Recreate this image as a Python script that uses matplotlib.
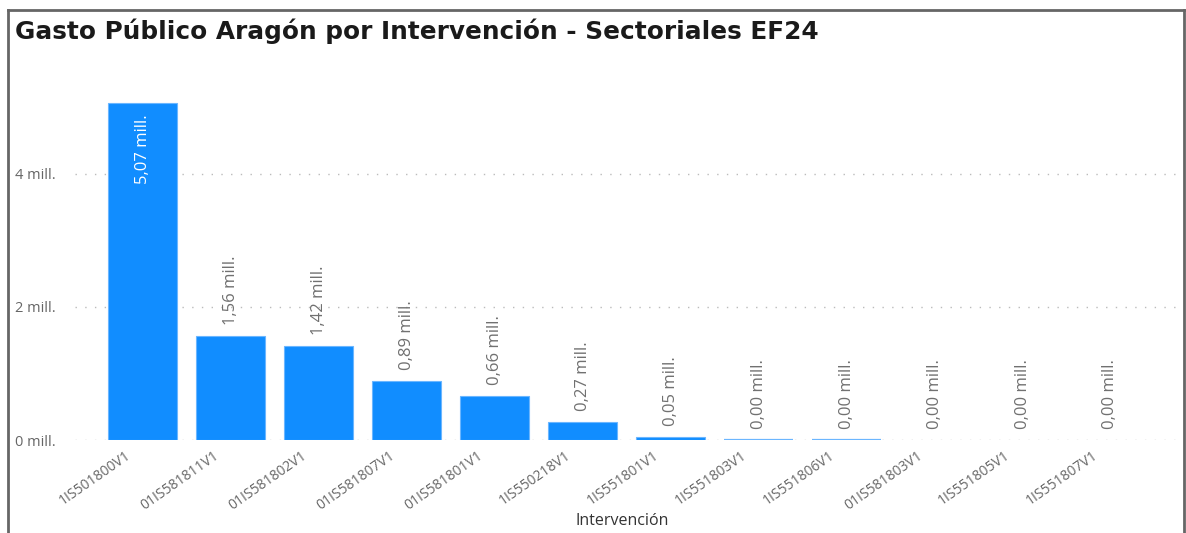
import matplotlib.pyplot as plt
import matplotlib.transforms as mtransforms
from matplotlib.lines import Line2D

categorias = ['1IS501800V1', '01IS581811V1', '01IS581802V1', '01IS581807V1',
              '01IS581801V1', '1IS550218V1', '1IS551801V1', '1IS551803V1',
              '1IS551806V1', '01IS581803V1', '1IS551805V1', '1IS551807V1']
gasto = [5.07, 1.56, 1.42, 0.89, 0.66, 0.27, 0.05, 0.004, 0.004, 0.0, 0.0, 0.0]
etiquetas = ['5,07 mill.', '1,56 mill.', '1,42 mill.', '0,89 mill.', '0,66 mill.',
             '0,27 mill.', '0,05 mill.', '0,00 mill.', '0,00 mill.', '0,00 mill.',
             '0,00 mill.', '0,00 mill.']
yticks = [0, 2, 4]
yticklabels = ['0 mill.', '2 mill.', '4 mill.']

W, H = 1186, 533
fig = plt.figure(figsize=(W / 100, H / 100), dpi=100)
plt.rcParams['font.family'] = ['Open Sans', 'DejaVu Sans']

# plot area in pixels: left 75, right 1180, y=0 at 440, top at 70
ax = fig.add_axes([75 / W, (H - 440) / H, (1180 - 75) / W, (440 - 70) / H])
ax.set_xlim(-0.77, 11.79)
ax.set_ylim(0, 370 / 66.5)

x = list(range(len(categorias)))
anchos = [0 if v == 0 else (1.6 if v < 0.01 else 0.8) for v in gasto]
ax.bar(x, gasto, width=0.78, color='#118DFF', edgecolor='#6BB6FF', linewidth=anchos, zorder=3)

for i, (v, t) in enumerate(zip(gasto, etiquetas)):
    if v > 4:
        ax.annotate(t, (i, v), xytext=(0, -12), textcoords='offset pixels',
                    rotation=90, ha='center', va='top', fontsize=12, color='white', zorder=4)
    else:
        ax.annotate(t, (i, v), xytext=(0, 11), textcoords='offset pixels',
                    rotation=90, ha='center', va='bottom', fontsize=12, color='#707070', zorder=4)

ax.set_yticks(yticks)
ax.set_yticklabels(yticklabels, fontsize=10.5, color='#666666')
ax.set_xticks(x)
ax.set_xticklabels(categorias, rotation=35, ha='right', rotation_mode='anchor',
                   fontsize=10, color='#666666')
ax.tick_params(axis='both', length=0)
ax.tick_params(axis='x', pad=6)
shift = mtransforms.ScaledTranslation(-18 / 100, 0, fig.dpi_scale_trans)
for lbl in ax.get_xticklabels():
    lbl.set_transform(lbl.get_transform() + shift)
for lbl in ax.get_yticklabels():
    lbl.set_horizontalalignment('left')
    lbl.set_x(-60 / (1180 - 75))
ax.tick_params(axis='y', pad=0)

ax.grid(axis='y', linestyle=(0, (1, 6)), color='#BBBBBB', linewidth=1, zorder=0)
for s in ax.spines.values():
    s.set_visible(False)

ax.set_xlabel('Intervención', fontsize=11.5, color='#333333')
ax.xaxis.set_label_coords((622 - 75) / (1180 - 75), -(513 - 440) / 370)

fig.text(15 / W, 1 - 31 / H, 'Gasto Público Aragón por Intervención - Sectoriales EF24',
         fontsize=17.8, fontweight='bold', family='DejaVu Sans', color='#1a1a1a',
         va='center', ha='left')

# frame of the visual
fr = dict(color='#666666', linewidth=2, transform=fig.transFigure)
fig.add_artist(Line2D([8 / W, 1184 / W], [1 - 10 / H, 1 - 10 / H], **fr))
fig.add_artist(Line2D([8 / W, 8 / W], [0, 1 - 10 / H], **fr))
fig.add_artist(Line2D([1184 / W, 1184 / W], [0, 1 - 10 / H], **fr))

fig.savefig('out.png', dpi=100)
